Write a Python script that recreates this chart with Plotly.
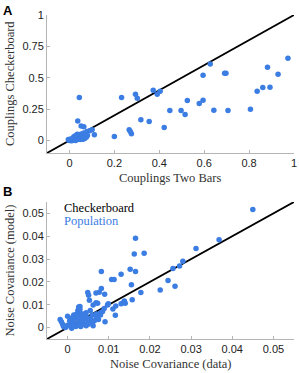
import plotly.graph_objects as go

# Panel A: couplings
a_x = [0.973, 0.882, 0.929, 0.893, 0.861, 0.836, 0.806, 0.706, 0.643, 0.691, 0.697,
       0.627, 0.595, 0.595, 0.578, 0.525, 0.515, 0.497, 0.447, 0.422, 0.404, 0.373,
       0.391, 0.355, 0.318, 0.294, 0.302, 0.232, 0.276, 0.266, 0.271, 0.200, 0.111,
       0.044, 0.037, 0.052, 0.064, 0.101, 0.090, 0.078,
       0.0, 0.003, 0.006, 0.01, 0.012, 0.015, 0.018, 0.02, 0.022, 0.025, 0.027, 0.03,
       0.03, 0.032, 0.035, 0.035, 0.038, 0.04, 0.042, 0.045, 0.045, 0.048, 0.05, 0.052,
       0.055, 0.057, 0.06, 0.06, 0.062, 0.065, 0.068, 0.07, -0.003, -0.005, 0.008, 0.014,
       0.02, 0.025, 0.028, 0.05, 0.065, 0.075, 0.08, 0.005, 0.017]
a_y = [0.655, 0.583, 0.527, 0.425, 0.423, 0.393, 0.249, 0.238, 0.241, 0.535, 0.535,
       0.609, 0.519, 0.321, 0.294, 0.318, 0.208, 0.238, 0.238, 0.104, 0.393, 0.401,
       0.369, 0.152, 0.166, 0.369, 0.337, 0.342, 0.053, 0.086, 0.072, 0.032, 0.045,
       0.342, 0.155, 0.115, 0.110, 0.086, 0.078, 0.072,
       0.0, 0.005, 0.002, 0.01, 0.004, 0.012, 0.008, 0.02, 0.015, 0.005, 0.025, 0.018,
       0.04, 0.01, 0.03, 0.05, 0.022, 0.012, 0.035, 0.02, 0.045, 0.008, 0.03, 0.015,
       0.04, 0.025, 0.01, 0.055, 0.02, 0.035, 0.015, 0.04, 0.002, 0.008, -0.003, 0.0,
       0.03, 0.035, 0.0, 0.05, 0.06, 0.025, 0.04, 0.012, 0.022]

# Panel B: noise covariance
b_x = [0.045, 0.0368, 0.0312, 0.0280, 0.0272, 0.0256, 0.0244, 0.0261, 0.0225,
       0.0165, 0.0162, 0.0186, 0.0165, 0.0152, 0.0130, 0.0155, 0.0157, 0.0178,
       0.0082, 0.0107, 0.0113, 0.0082, 0.0090, 0.0077, 0.0069, 0.0073, 0.0069,
       0.0049, 0.0051, 0.0053, 0.0062, 0.0097, 0.0099, 0.0089, 0.011, 0.0117,
       0.0135, 0.0138, 0.0130, 0.0140, 0.0116, 0.0091,
       -0.0018, -0.0015, -0.0012, -0.001, -0.0005, 0.0, 0.0, 0.0005, 0.001, 0.001,
       0.0015, 0.0015, 0.002, 0.002, 0.0022, 0.0025, 0.0025, 0.0027, 0.003, 0.003,
       0.003, 0.003, 0.003, 0.003, 0.0032, 0.0035, 0.0035, 0.004, 0.004, 0.0045,
       0.0045, 0.005, 0.005, 0.0055, 0.006, 0.006, 0.0065, 0.007, 0.007, 0.0075,
       0.008, 0.008, 0.0085, 0.0045, 0.0055, 0.0015, 0.0005, 0.001, 0.0038, 0.0062]
b_y = [0.0517, 0.0384, 0.0346, 0.0290, 0.0270, 0.0259, 0.0206, 0.0181, 0.0164,
       0.0391, 0.0322, 0.0325, 0.0246, 0.0255, 0.0233, 0.0188, 0.0122, 0.0154,
       0.0245, 0.0210, 0.0210, 0.0171, 0.0146, 0.0155, 0.0151, 0.0107, 0.0109,
       0.0154, 0.0142, 0.0120, 0.0099, 0.0099, 0.0104, 0.0084, 0.0081, 0.0094,
       0.0109, 0.0116, 0.0104, 0.0107, 0.0054, 0.0025,
       0.0035, 0.0025, 0.0015, 0.0005, 0.0, 0.001, 0.005, 0.0008, 0.002, -0.0003,
       0.001, 0.003, 0.0005, 0.004, 0.006, 0.0015, 0.0075, 0.009, 0.0092, 0.008,
       0.0065, 0.005, 0.003, 0.001, 0.0005, 0.0025, 0.0045, 0.0015, 0.0035, 0.005,
       0.0008, 0.003, 0.0015, 0.004, 0.002, 0.0055, 0.003, 0.006, 0.0045, 0.0035,
       0.0065, 0.0055, 0.007, 0.0065, 0.0075, 0.0055, 0.003, 0.0042, 0.006, 0.0008]

a_range = [-0.1, 1.0]
b_range = [-0.005, 0.055]
a_ticks = [0, 0.2, 0.4, 0.6, 0.8, 1]
a_ytick_vals = [0, 0.25, 0.5, 0.75, 1]
a_ytick_text = ["0", "0.25", "0.5", "0.75", "1"]
b_ticks = [0, 0.01, 0.02, 0.03, 0.04, 0.05]
b_tick_text = ["0", "0.01", "0.02", "0.03", "0.04", "0.05"]

blue = "#3b7de3"
serif = "Liberation Serif, DejaVu Serif, serif"
sans = "Liberation Sans, Arial, sans-serif"

fig = go.Figure()
fig.add_trace(go.Scatter(x=a_range, y=a_range, mode="lines", line=dict(color="black", width=1.8),
                         xaxis="x", yaxis="y", showlegend=False, hoverinfo="skip"))
fig.add_trace(go.Scatter(x=a_x, y=a_y, mode="markers", marker=dict(color=blue, size=5.5),
                         xaxis="x", yaxis="y", showlegend=False, cliponaxis=False))
fig.add_trace(go.Scatter(x=b_range, y=b_range, mode="lines", line=dict(color="black", width=1.8),
                         xaxis="x2", yaxis="y2", showlegend=False, hoverinfo="skip"))
fig.add_trace(go.Scatter(x=b_x, y=b_y, mode="markers", marker=dict(color=blue, size=5.5),
                         xaxis="x2", yaxis="y2", showlegend=False, cliponaxis=False))

axis_common = dict(showgrid=False, zeroline=False, showline=True, linecolor="#b5b5b5",
                   linewidth=1, ticks="inside", ticklen=3, tickcolor="#b5b5b5",
                   automargin=False, tickfont=dict(family=sans, size=11, color="#222"))
title_font = dict(family=serif, size=12.5, color="#333")

fig.update_layout(
    width=299, height=373,
    margin=dict(l=47, r=5, t=15, b=34, autoexpand=False),
    paper_bgcolor="white", plot_bgcolor="white",
    xaxis=dict(domain=[0, 1], range=a_range, anchor="y", tickvals=a_ticks,
               ticktext=["0", "0.2", "0.4", "0.6", "0.8", "1"], **axis_common),
    yaxis=dict(domain=[0.574, 1], range=a_range, anchor="x", tickvals=a_ytick_vals,
               ticktext=a_ytick_text, **axis_common),
    xaxis2=dict(domain=[0, 1], range=b_range, anchor="y2", tickvals=b_ticks, ticktext=b_tick_text,
                **axis_common),
    yaxis2=dict(domain=[0, 0.423], range=b_range, anchor="x2", tickvals=b_ticks, ticktext=b_tick_text,
                **axis_common),
    annotations=[
        dict(text="<b>A</b>", x=0, y=1, xref="paper", yref="paper", xanchor="left", yanchor="top",
             showarrow=False, font=dict(family=sans, size=13, color="black"), xshift=-46, yshift=14),
        dict(text="<b>B</b>", x=0, y=0.423, xref="paper", yref="paper", xanchor="left", yanchor="top",
             showarrow=False, font=dict(family=sans, size=13, color="black"), xshift=-46, yshift=20),
        # axis titles
        dict(text="Couplings Two Bars", x=0.5, y=0.574, xref="paper", yref="paper", xanchor="center",
             yanchor="middle", yshift=-25, showarrow=False, font=title_font),
        dict(text="Noise Covariance (data)", x=0.5, y=0, xref="paper", yref="paper", xanchor="center",
             yanchor="middle", yshift=-25, showarrow=False, font=title_font),
        dict(text="Couplings Checkerboard", x=0, y=0.787, xref="paper", yref="paper", xanchor="center",
             yanchor="middle", xshift=-37, textangle=-90, showarrow=False, font=title_font),
        dict(text="Noise Covariance (model)", x=0, y=0.2115, xref="paper", yref="paper", xanchor="center",
             yanchor="middle", xshift=-37, textangle=-90, showarrow=False, font=title_font),
        # legend
        dict(text="Checkerboard", x=0.06, y=0.956, xref="x2 domain", yref="y2 domain", xanchor="left",
             yanchor="middle", showarrow=False, font=dict(family=serif, size=12.5, color="black")),
        dict(text="Population", x=0.06, y=0.86, xref="x2 domain", yref="y2 domain", xanchor="left",
             yanchor="middle", showarrow=False, font=dict(family=serif, size=12.5, color=blue)),
    ],
)

fig.write_html("out.html", config={"displayModeBar": False},
               post_script="document.body.style.margin='0';")
